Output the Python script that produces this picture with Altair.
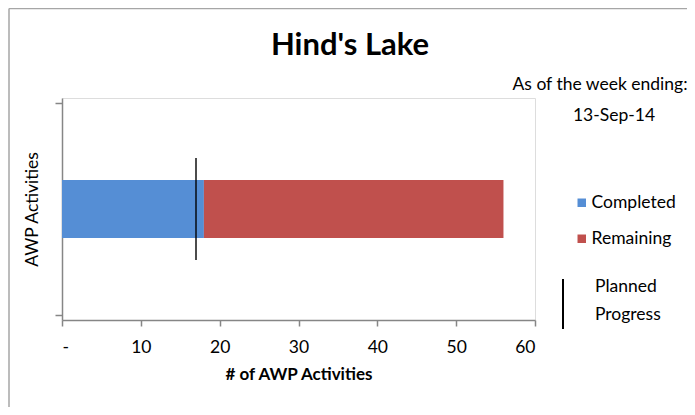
import altair as alt
import pandas as pd

# ---- data ----
categories = ["Completed", "Remaining"]
values = [18, 38]
stack_order = [1, 2]
planned_progress = [17]
x_ticks = [0, 10, 20, 30, 40, 50, 60]
title_text = "Hind's Lake"
note_lines = ["As of the week ending:", "13-Sep-14"]
planned_label = ["Planned", "Progress"]

colors = ["#558ED5", "#C0504D"]
FONT = "Lato"
AXIS_GRAY = "#868686"
FS = 17.5

bars_df = pd.DataFrame({
    "status": categories,
    "count": values,
    "ord": stack_order,
    "slot": [0.5] * len(categories),
})
plan_df = pd.DataFrame({"planned": planned_progress, "slot": [0.5]})

W, H = 473, 222

x_scale = alt.Scale(domain=[0, 60], nice=False, zero=True)
y_scale = alt.Scale(domain=[0, 1], nice=False)

bars = alt.Chart(bars_df).mark_bar(size=58).encode(
    x=alt.X("sum(count):Q", scale=x_scale, stack="zero",
            axis=alt.Axis(values=x_ticks, title="# of AWP Activities",
                          labelExpr="datum.value == 0 ? '-' : format(datum.value, 'd')",
                          grid=False, tickSize=6, labelPadding=12,
                          titlePadding=11, domainColor=AXIS_GRAY, tickColor=AXIS_GRAY,
                          domainWidth=1.5, tickWidth=1.5,
                          labelFontSize=FS, titleFontSize=17, titleFontWeight="bold",
                          labelColor="black", titleColor="black",
                          labelFont=FONT, titleFont=FONT)),
    y=alt.Y("slot:Q", scale=y_scale,
            axis=alt.Axis(values=[0, 1], labels=False, title="AWP Activities",
                          grid=False, tickSize=7, titlePadding=13,
                          domainColor=AXIS_GRAY, tickColor=AXIS_GRAY,
                          domainWidth=1.5, tickWidth=1.5,
                          titleFontSize=FS, titleFontWeight="normal",
                          titleColor="black", titleFont=FONT)),
    color=alt.Color("status:N", scale=alt.Scale(domain=categories, range=colors),
                    legend=alt.Legend(orient="none", legendX=511, legendY=96,
                                      title=None, symbolType="square", symbolSize=72,
                                      symbolStrokeWidth=0, labelFontSize=FS, labelFont=FONT,
                                      labelColor="black", rowPadding=17, labelOffset=1)),
    order=alt.Order("ord:Q"),
)

plan = alt.Chart(plan_df).mark_tick(orient="vertical", size=102, thickness=2,
                                    color="black").encode(
    x=alt.X("planned:Q", scale=x_scale),
    y=alt.Y("slot:Q", scale=y_scale),
)

def txt(text, x, y, size=FS, weight="normal", align="center"):
    return alt.Chart(pd.DataFrame({"t": [text]})).mark_text(
        font=FONT, fontSize=size, fontWeight=weight, align=align,
        baseline="middle", color="black").encode(
        text="t:N", x=alt.value(x), y=alt.value(y))

title = txt(title_text, 288, -52, size=31, weight="bold")
note1 = txt(note_lines[0], 538, -13)
note2 = txt(note_lines[1], 552, 18)
pl1 = txt(planned_label[0], 533, 189, align="left")
pl2 = txt(planned_label[1], 533, 217, align="left")

plan_legend = alt.Chart(plan_df).mark_rule(color="black", strokeWidth=2).encode(
    x=alt.value(501), y=alt.value(181), y2=alt.value(231))

border_left = alt.Chart(plan_df).mark_rule(color="#A6A6A6", strokeWidth=1.5).encode(
    x=alt.value(-53), y=alt.value(-89.5), y2=alt.value(330))
border_top = alt.Chart(plan_df).mark_rule(color="#A6A6A6", strokeWidth=1.5).encode(
    x=alt.value(-53), x2=alt.value(630), y=alt.value(-89.5))

chart = alt.layer(
    border_left, border_top, bars, plan, title, note1, note2, plan_legend, pl1, pl2
).properties(
    width=W, height=H,
    autosize=alt.AutoSizeParams(type="none"),
    padding={"left": 54, "top": 90, "right": 152, "bottom": 87},
).configure_view(stroke=None).configure(background="white")

chart.save("out.html", embed_options={"renderer": "svg", "actions": False})
